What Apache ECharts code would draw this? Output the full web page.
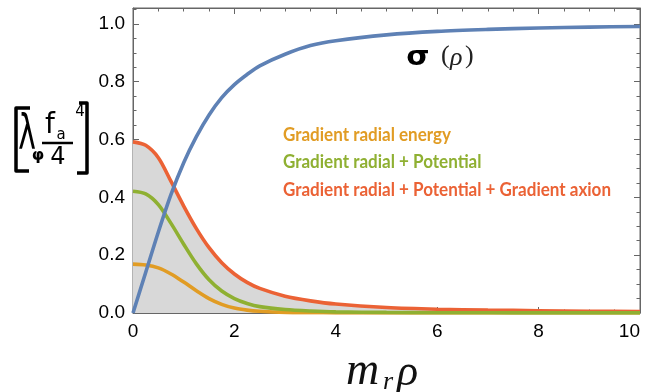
<!DOCTYPE html>
<html><head><meta charset="utf-8">
<script src="https://cdn.jsdelivr.net/npm/echarts@6/dist/echarts.min.js"></script>
<style>html,body{margin:0;padding:0;background:#fff}#c{width:653px;height:392px}</style>
</head><body><div id="c"></div>
<script>
// ---- data ----
const rho = [0,0.25,0.5,0.75,1,1.25,1.5,1.75,2,2.25,2.5,3,3.5,4,5,6,7,8,9,10];
const sigmaProfile = [0,0.14,0.28,0.41,0.52,0.61,0.685,0.745,0.79,0.825,0.855,0.895,0.925,0.942,0.962,0.974,0.981,0.986,0.989,0.991];
const gradRadialAll = [0.592,0.580,0.537,0.455,0.37,0.292,0.226,0.174,0.135,0.106,0.085,0.058,0.042,0.031,0.019,0.013,0.010,0.008,0.006,0.005];
const gradRadialPot = [0.421,0.412,0.375,0.31,0.238,0.17,0.115,0.076,0.05,0.033,0.022,0.012,0.007,0.004,0.002,0.001,0.0007,0.0005,0.0004,0.0003];
const gradRadialEnergy = [0.169,0.166,0.156,0.135,0.107,0.077,0.05,0.03,0.017,0.010,0.006,0.002,0.001,0.0005,0.0002,0.0001,0,0,0,0];
const legendLabels = ['Gradient radial energy','Gradient radial + Potential','Gradient radial + Potential + Gradient axion'];
const xRange = [0, 10];
const yRange = [0, 1.055];

const C = {blue:'#5E81B5', orange:'#E19C24', green:'#8FB032', red:'#EB6235', frame:'#666666'};
const pts = arr => rho.map((x,i)=>[x,arr[i]]);

function measure(txt, font){const c=document.createElement('canvas').getContext('2d');c.font=font;return c.measureText(txt).width;}
const legFont = 'bold 18px Lato';
const legScale = 328 / measure(legendLabels[2], legFont);

const GRID = {left:133, right:13, top:8, bottom:79};
const chart = echarts.init(document.getElementById('c'), null, {renderer:'canvas'});
const axisCommon = {
  axisLine:{show:true, onZero:false, lineStyle:{color:C.frame, width:1}},
  axisTick:{show:true, inside:true, length:6, lineStyle:{color:C.frame}},
  minorTick:{show:true, splitNumber:4, length:3.5, lineStyle:{color:C.frame}},
  splitLine:{show:false}
};
const labelStyle = {color:'#000', fontSize:19, fontFamily:'Liberation Sans, Arial, sans-serif'};
const lineSeries = (name, arr, color, extra) => Object.assign({
  name, type:'line', data: pts(arr), showSymbol:false, smooth:0.3,
  lineStyle:{color, width:3.6}, itemStyle:{color}, silent:true, xAxisIndex:0, yAxisIndex:0
}, extra||{});

chart.setOption({
  animation:false,
  backgroundColor:'#fff',
  grid:Object.assign({containLabel:false, outerBoundsMode:'none', show:true, borderColor:C.frame, borderWidth:1, backgroundColor:'transparent'}, GRID),
  xAxis:[
    Object.assign({type:'value', position:'bottom', min:xRange[0], max:xRange[1], interval:2,
      axisLabel:Object.assign({margin:9, formatter:v=>String(v), alignMaxLabel:'right'}, labelStyle)}, axisCommon),
    Object.assign({type:'value', position:'top', min:xRange[0], max:xRange[1], interval:2,
      axisLabel:{show:false}}, axisCommon)
  ],
  yAxis:[
    Object.assign({type:'value', position:'left', min:yRange[0], max:yRange[1], interval:0.2,
      axisLabel:Object.assign({margin:8, showMaxLabel:false, formatter:v=>v.toFixed(1)}, labelStyle)}, axisCommon),
    Object.assign({type:'value', position:'right', min:yRange[0], max:yRange[1], interval:0.2,
      axisLabel:{show:false}}, axisCommon)
  ],
  series:[
    lineSeries(legendLabels[2], gradRadialAll, C.red, {areaStyle:{color:'#d8d8d8', opacity:1}}),
    lineSeries(legendLabels[0], gradRadialEnergy, C.orange),
    lineSeries(legendLabels[1], gradRadialPot, C.green),
    lineSeries('sigma', sigmaProfile, C.blue)
  ],
  graphic:[
    // frame top edge (plot box)
    {type:'line', z:100, shape:{x1:GRID.left, y1:GRID.top+0.5, x2:653-GRID.right, y2:GRID.top+0.5}, style:{stroke:C.frame, lineWidth:1}},
    // legend texts
    {type:'text', x:283, y:135, scaleX:legScale, style:{text:legendLabels[0], font:legFont, fill:C.orange, verticalAlign:'middle'}},
    {type:'text', x:283, y:162, scaleX:legScale, style:{text:legendLabels[1], font:legFont, fill:C.green, verticalAlign:'middle'}},
    {type:'text', x:283, y:190, scaleX:legScale, style:{text:legendLabels[2], font:legFont, fill:C.red, verticalAlign:'middle'}},
    // sigma(rho) label
    {type:'text', x:418, y:58, scaleX:1.15, style:{text:'σ', font:'bold 26px DejaVu Sans', fill:'#000', align:'center', verticalAlign:'middle'}},
    {type:'text', x:441, y:56, style:{text:'(', font:'26px Liberation Serif', fill:'#222', verticalAlign:'middle'}},
    {type:'text', x:450, y:58, style:{text:'ρ', font:'italic 26px Liberation Serif', fill:'#222', verticalAlign:'middle'}},
    {type:'text', x:465, y:56, style:{text:')', font:'26px Liberation Serif', fill:'#222', verticalAlign:'middle'}},
    // x-axis name m_r rho
    {type:'text', x:346, y:372, style:{text:'m', font:'italic 46px Liberation Serif', fill:'#111', verticalAlign:'middle'}},
    {type:'text', x:383, y:382, style:{text:'r', font:'italic 26px Liberation Serif', fill:'#111', verticalAlign:'middle'}},
    {type:'text', x:397, y:373, style:{text:'ρ', font:'italic 44px Liberation Serif', fill:'#111', verticalAlign:'middle'}},
    // handwritten y-axis label  [ λ_φ f_a^4 / 4 ]
    {type:'polyline', shape:{points:[[30,108],[16,108],[16,171],[29,171]]}, style:{stroke:'#000', lineWidth:3.5, fill:null, lineJoin:'round'}},
    {type:'polyline', shape:{points:[[79,103],[87,103],[87,173],[77,173]]}, style:{stroke:'#000', lineWidth:3.5, fill:null, lineJoin:'round'}},
    {type:'text', x:27, y:137, scaleX:0.62, style:{text:'λ', font:'48px DejaVu Sans', fill:'#000', align:'center', verticalAlign:'middle'}},
    {type:'text', x:38, y:156, style:{text:'φ', font:'bold 16px DejaVu Sans', fill:'#000', align:'center', verticalAlign:'middle'}},
    {type:'text', x:50, y:126, style:{text:'f', font:'28px DejaVu Sans', fill:'#000', align:'center', verticalAlign:'middle'}},
    {type:'text', x:61, y:135, style:{text:'a', font:'15px DejaVu Sans', fill:'#000', align:'center', verticalAlign:'middle'}},
    {type:'line', shape:{x1:42, y1:143, x2:73, y2:143}, style:{stroke:'#000', lineWidth:2.5}},
    {type:'text', x:58, y:158, style:{text:'4', font:'24px DejaVu Sans', fill:'#000', align:'center', verticalAlign:'middle'}},
    {type:'text', x:80, y:112, style:{text:'4', font:'15px DejaVu Sans', fill:'#000', align:'center', verticalAlign:'middle'}}
  ]
});
</script>
</body></html>
